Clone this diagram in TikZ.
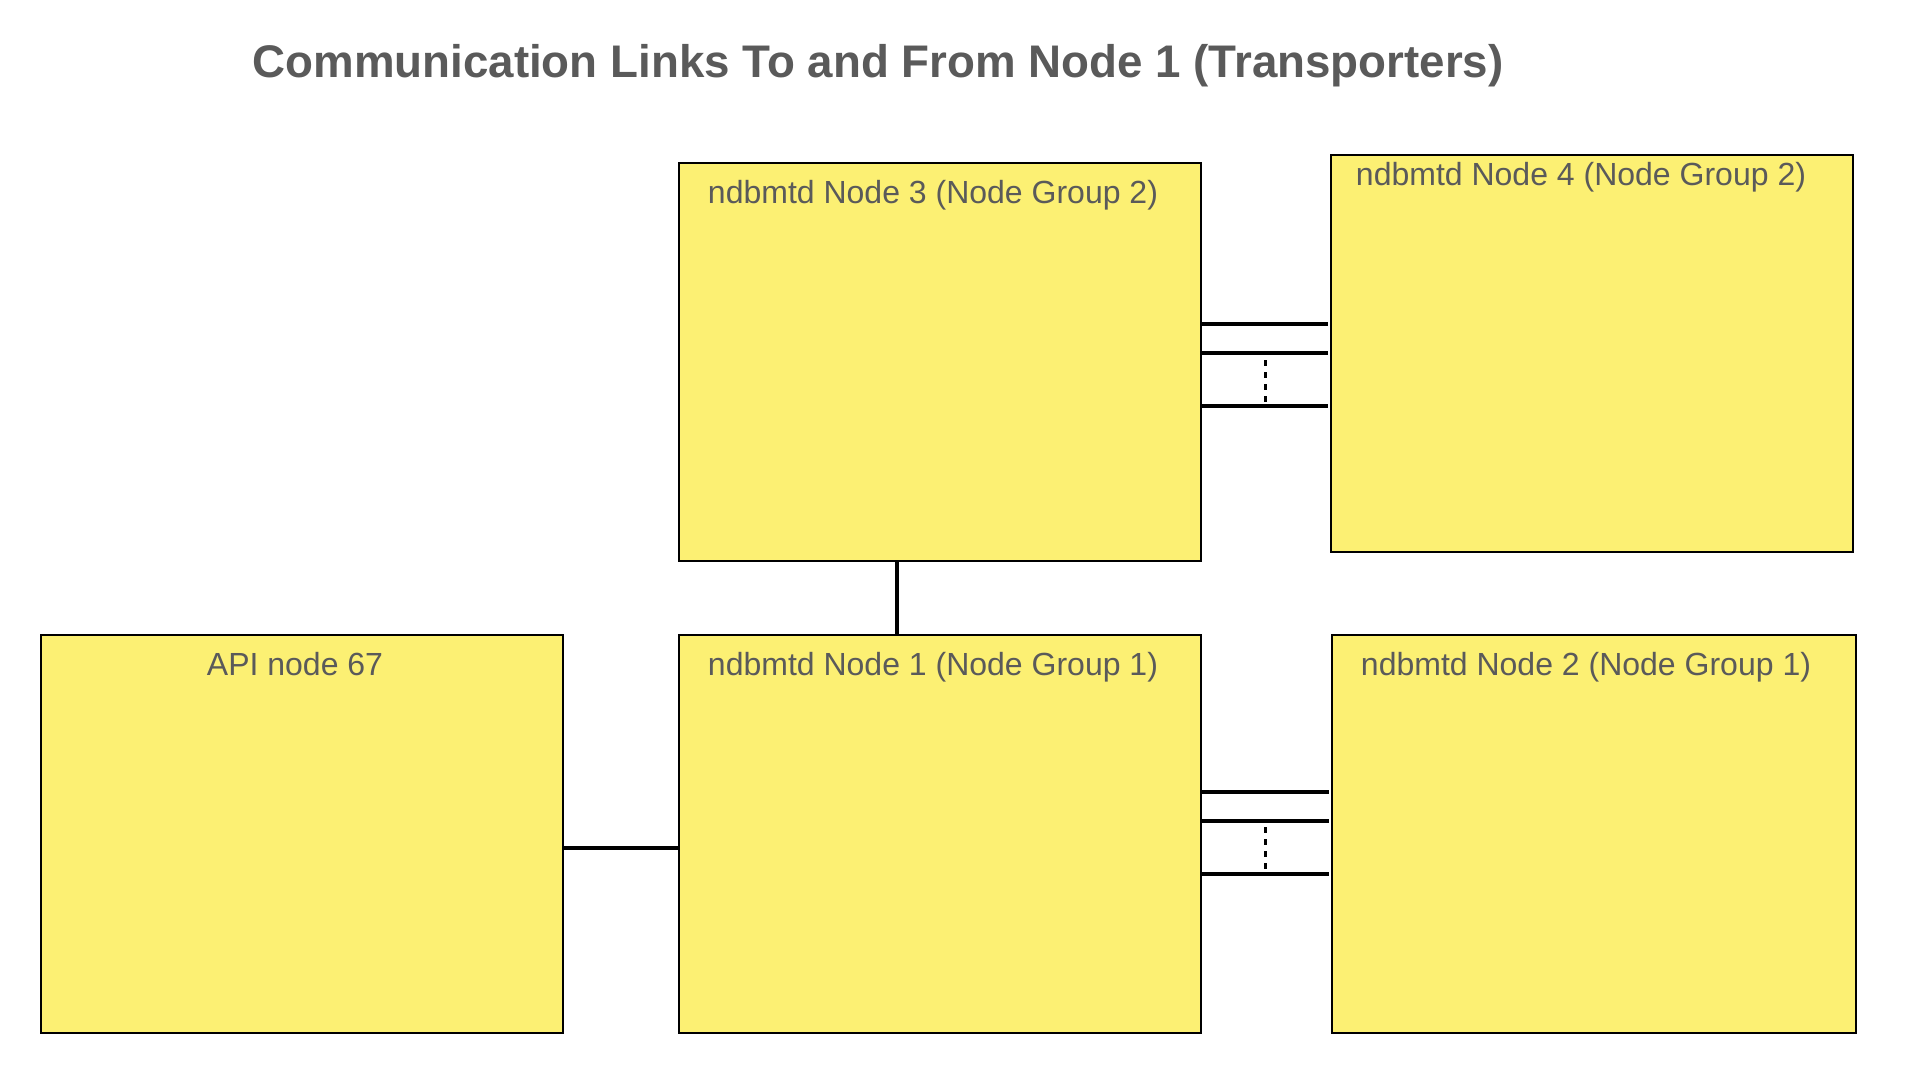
\documentclass[tikz,border=0pt]{standalone}
\usepackage{fontspec}
\setmainfont{Liberation Sans}
\definecolor{boxfill}{RGB}{252,240,115}
\definecolor{txt}{RGB}{90,90,90}
\begin{document}
\begin{tikzpicture}[x=1pt,y=-1pt,
  box/.style={draw=black, line width=2pt, fill=boxfill, minimum width=522pt, minimum height=398pt, anchor=north west, inner sep=0pt},
  lbl/.style={text=txt, font=\fontsize{32}{38}\selectfont, anchor=base, inner sep=0pt},
  link/.style={line width=4.6pt, black},
  dotlink/.style={line width=3pt, black, dash pattern=on 5.5pt off 6.5pt}]
\useasboundingbox (0,0) rectangle (1920,1080);
\node[text=txt, font=\fontsize{45.7}{54}\selectfont\bfseries, anchor=base, inner sep=0pt] (title) at (878,77) {Communication Links To and From Node 1 (Transporters)};
% boxes
\node[box] (n3) at (678,162) {};
\node[box, minimum height=397pt] (n4) at (1330,154) {};
\node[box] (api) at (40,634) {};
\node[box] (n1) at (678,634) {};
\node[box, minimum width=524pt] (n2) at (1331,634) {};
% labels
\node[lbl] (n3t) at (933,203) {ndbmtd Node 3 (Node Group 2)};
\node[lbl] (n4t) at (1581,185) {ndbmtd Node 4 (Node Group 2)};
\node[lbl] (apit) at (295,675) {API node 67};
\node[lbl] (n1t) at (933,675) {ndbmtd Node 1 (Node Group 1)};
\node[lbl] (n2t) at (1586,675) {ndbmtd Node 2 (Node Group 1)};
% connectors
\draw[link] (n3.south -| 897,0) -- (n1.north -| 897,0);
\draw[link] (api.east |- 0,848) -- (n1.west |- 0,848);
\foreach \yy in {324,353,406} {
  \draw[link] (n3.east |- 0,\yy) -- ([xshift=-2pt]n4.west |- 0,\yy);
}
\coordinate (d1a) at (1265,360);
\coordinate (d1b) at (1265,402);
\draw[dotlink] (d1a) -- (d1b);
\foreach \yy in {792,821,874} {
  \draw[link] (n1.east |- 0,\yy) -- ([xshift=-2pt]n2.west |- 0,\yy);
}
\coordinate (d2a) at (1265,827);
\coordinate (d2b) at (1265,869);
\draw[dotlink] (d2a) -- (d2b);
\end{tikzpicture}
\end{document}
